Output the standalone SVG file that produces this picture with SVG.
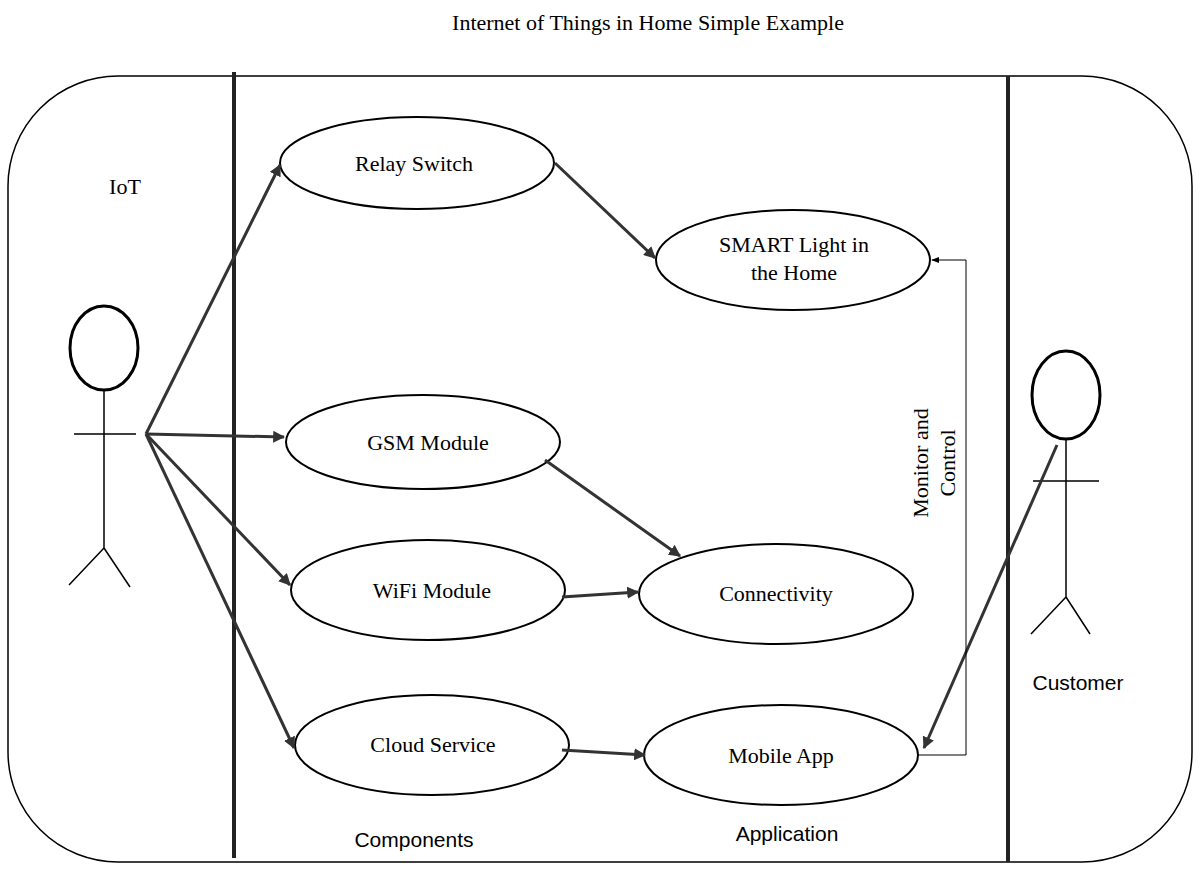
<svg xmlns="http://www.w3.org/2000/svg" width="1200" height="874" viewBox="0 0 1200 874">
<style>
text{font-family:"Liberation Serif",serif;font-size:22px;fill:#000;text-anchor:middle}
.s{font-family:"Liberation Sans",sans-serif;font-size:21px}
.uc{fill:#fff;stroke:#000;stroke-width:2}
.ln{stroke:#000;stroke-width:1.5;fill:none}
.ar{stroke:#333;stroke-width:3;fill:none;marker-end:url(#a)}
</style>
<defs>
<marker id="a" viewBox="0 0 10 10" refX="9" refY="5" markerWidth="4" markerHeight="4" orient="auto"><path d="M0,0L10,5L0,10z" fill="#333"/></marker>
<marker id="b" viewBox="0 0 10 10" refX="9" refY="5" markerWidth="8" markerHeight="8" orient="auto"><path d="M0,1L10,5L0,9z" fill="#000"/></marker>
</defs>
<rect width="1200" height="874" fill="#fff"/>
<text x="648" y="30">Internet of Things in Home Simple Example</text>
<rect x="8" y="76" width="1184" height="786" rx="110" class="ln" stroke-width="2"/>
<line x1="234" y1="72" x2="234" y2="858" stroke="#222" stroke-width="4"/>
<line x1="1008" y1="76" x2="1008" y2="862" stroke="#222" stroke-width="4"/>
<text x="125" y="194">IoT</text>
<text x="414" y="847" class="s">Components</text>
<text x="787" y="841" class="s">Application</text>
<g id="iot"><ellipse cx="104" cy="348" rx="34" ry="42" fill="none" stroke="#000" stroke-width="3"/><path class="ln" d="M104 390V548M74 434H136M104 548L69 585M104 548L130 587"/></g>
<g id="customer"><ellipse cx="1066" cy="395" rx="34" ry="44" fill="none" stroke="#000" stroke-width="3"/><path class="ln" d="M1066 439V597M1033 481H1099M1066 597L1031 634M1066 597L1090 634"/><text x="1078" y="690" class="s">Customer</text></g>
<g id="relay"><ellipse class="uc" cx="417" cy="163" rx="137" ry="46"/><text x="414" y="171">Relay Switch</text></g>
<g id="smart"><ellipse class="uc" cx="793" cy="260" rx="137" ry="50"/><text x="794" y="252">SMART Light in</text><text x="794" y="280">the Home</text></g>
<g id="gsm"><ellipse class="uc" cx="423" cy="442" rx="137" ry="47"/><text x="428" y="450">GSM Module</text></g>
<g id="conn"><ellipse class="uc" cx="776" cy="594" rx="137" ry="50"/><text x="776" y="601">Connectivity</text></g>
<g id="wifi"><ellipse class="uc" cx="428" cy="590" rx="137" ry="50"/><text x="432" y="598">WiFi Module</text></g>
<g id="cloud"><ellipse class="uc" cx="432" cy="745" rx="137" ry="50"/><text x="433" y="752">Cloud Service</text></g>
<g id="mobile"><ellipse class="uc" cx="781" cy="755" rx="137" ry="50"/><text x="781" y="763">Mobile App</text></g>
<g id="connectors">
<path class="ar" d="M146 434L280 165"/>
<path class="ar" d="M146 434L284 437"/>
<path class="ar" d="M146 434L290 585"/>
<path class="ar" d="M146 434L294 748"/>
<path class="ar" d="M555 163L655 258"/>
<path class="ar" d="M545 460L680 556"/>
<path class="ar" d="M562 597L638 592"/>
<path class="ar" d="M562 750L645 755"/>
<path class="ar" d="M1057 445L924 748"/>
<path d="M918 755H966V260H932" stroke="#000" stroke-width="1" fill="none" marker-end="url(#b)"/>
<text transform="translate(928,463) rotate(-90)">Monitor and</text>
<text transform="translate(955,463) rotate(-90)">Control</text>
</g>
</svg>
